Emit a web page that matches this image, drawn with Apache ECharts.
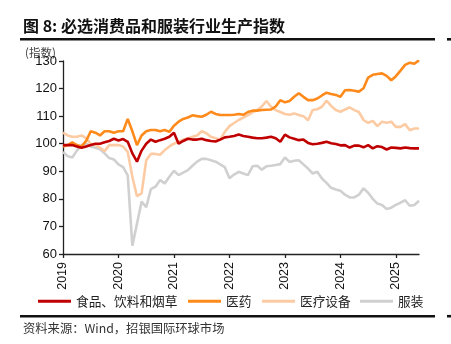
<!DOCTYPE html>
<html><head><meta charset="utf-8">
<script src="https://cdn.jsdelivr.net/npm/echarts@6/dist/echarts.min.js"></script>
<style>html,body{margin:0;padding:0;background:#fff}#c{width:451px;height:344px}</style>
</head><body><div id="c"></div>
<script>
// Monthly categories Jan 2019 .. Jun 2025
const categories = [];
for (let y = 2019; y <= 2025; y++) {
  for (let m = 1; m <= 12; m++) {
    if (y === 2025 && m > 6) break;
    categories.push(y + '-' + String(m).padStart(2, '0'));
  }
}
const yTicks = [60, 70, 80, 90, 100, 110, 120, 130];
const seriesNames = ['食品、饮料和烟草', '医药', '医疗设备', '服装'];

const food = [99.5,99.5,99.5,99,98.5,99,99.5,100,100,100.5,
  101,101.8,101.2,101.7,100.7,96.5,93.5,97.5,100,101.5,
  100.7,101.3,101.8,102.5,104,100,101,101.8,101.5,101.5,
  101.8,101.3,101,100.8,101.5,102.3,102.5,102.8,103.3,102.8,
  102.5,102.2,102,102,102.2,102.5,102,100.7,103.3,102.3,
  101.8,101.3,101.5,100.3,99.8,100,100.3,100.7,100.2,99.9,
  99.4,99.5,98.6,99.3,99.3,98.7,99.5,98.3,99.1,98.8,
  97.9,98.6,98.5,98.3,98.6,98.4,98.3,98.3];
const pharma = [99,99.5,100.5,99.5,99,101,104.5,104,103,104.5,
  104.5,104,104.5,104.5,109,104.5,99.5,103,104.5,105,
  105,104.5,105,104.3,106.5,108,109,109.5,110.3,110,
  109.8,110.5,111.6,110.8,110.4,110.4,110.4,110.5,110.8,110.5,
  111.5,112,112,112.2,112.3,112.4,113.5,115.8,115,115.5,
  117,118.3,117,115.8,115.8,116.4,117.5,118.5,118,117.7,
  117,119.4,119.5,119.2,118.9,120.1,124,125,125.3,125.5,
  124.6,123,124.5,126.5,128.6,129.4,129,130.3];
const equipment = [104,103,102.5,102.5,103,102,100,99.5,98.6,97.3,
  99.5,99.5,99.5,99,97,88,81,82,94,96.3,
  96.3,96,97.7,99,100,100.7,101.5,101.9,102.5,103,
  104.5,103.8,102.5,102,101.5,104.3,106.4,107.5,108.6,109.5,
  110.4,111.4,112.2,113.5,115.5,113.4,112.2,111.5,110.8,110.5,
  111,110.4,110,108.5,112.2,112.5,113.4,115.6,113.7,112.2,
  111.6,112.4,113.2,112.2,111.5,108.6,107.6,108.3,106.4,108,
  107.6,108,106.1,106.1,107.1,104.9,105.5,105.5];
const apparel = [97,95.5,95,97.5,99.5,100,99,98.5,98,96.5,
  94.8,94.3,92.5,91.5,88.5,63,71,79,77,83.5,
  84.4,86.8,85.6,88,90.2,88.6,89.5,90.4,92,93.5,
  94.5,94.5,94,93.5,92.5,91.5,87.5,88.8,89.8,89.2,
  88.6,91.8,92,90.6,91.8,92,92.3,92.6,95,93.4,
  93.8,94,92.5,91,89.2,89.8,87.4,85.8,84,83.4,
  82.9,81.5,80.5,80.5,81.5,83.8,82.2,80,78.3,77.8,
  76.3,76.8,77.8,78.6,79.5,77.5,77.8,79.3];

const colors = ['#C00000', '#FF8A1C', '#FCCBA3', '#D0D0D0'];
const seriesData = [food, pharma, equipment, apparel];
const zOrder = [6, 5, 4, 3];

const latin = "'Liberation Sans', Arial, 'Noto Sans CJK SC', sans-serif";
const cjk = "'Noto Sans CJK SC', 'Liberation Sans', sans-serif";

const chart = echarts.init(document.getElementById('c'), null, {renderer: 'canvas'});
const legendLeft = [38, 188, 262, 360];

const option = {
  animation: false,
  backgroundColor: '#fff',
  grid: {left: 63, top: 61, width: 356, height: 193, containLabel: false},
  xAxis: {
    type: 'category',
    data: categories,
    boundaryGap: false,
    axisLine: {lineStyle: {color: '#222', width: 1.3}},
    axisTick: {length: 4, lineStyle: {color: '#222', width: 1.3},
      interval: function (i) { return i % 12 === 0; }},
    axisLabel: {
      interval: function (i) { return i % 12 === 0; },
      rotate: 90, margin: 8, color: '#111', fontSize: 12.5, fontFamily: latin,
      formatter: function (v) { return v.slice(0, 4); }
    },
    splitLine: {show: false}
  },
  yAxis: {
    type: 'value', min: yTicks[0], max: yTicks[yTicks.length - 1], interval: 10,
    axisLine: {show: true, lineStyle: {color: '#222', width: 1.3}},
    axisTick: {show: true, length: 4, lineStyle: {color: '#222', width: 1.3}},
    axisLabel: {color: '#111', fontSize: 13, fontFamily: latin, margin: 6},
    splitLine: {show: false}
  },
  legend: seriesNames.map(function (n, k) {
    return {
      data: [n], left: legendLeft[k], top: 295, padding: 0,
      icon: 'rect', itemWidth: 33, itemHeight: 3,
      textStyle: {fontSize: 12.7, fontFamily: cjk, color: '#222'}
    };
  }),
  series: seriesNames.map(function (n, k) {
    return {
      name: n, type: 'line', data: seriesData[k], symbol: 'none', z: zOrder[k],
      lineStyle: {color: colors[k], width: 2.6}, itemStyle: {color: colors[k]}
    };
  }),
  graphic: [
    {type: 'text', x: 23, y: 26, style: {text: '图 8: 必选消费品和服装行业生产指数',
      font: "bold 16px 'Noto Sans CJK SC', 'Liberation Sans', sans-serif", fill: '#111', verticalAlign: 'middle'}},
    {type: 'line', shape: {x1: 20, y1: 39.3, x2: 435, y2: 39.3}, style: {stroke: '#111', lineWidth: 2.6}},
    {type: 'line', shape: {x1: 447, y1: 39.3, x2: 451, y2: 39.3}, style: {stroke: '#111', lineWidth: 2.6}},
    {type: 'text', x: 25, y: 53, style: {text: '(指数)', font: "11.5px 'Noto Sans CJK SC', sans-serif", fill: '#444', verticalAlign: 'middle'}},
    {type: 'line', shape: {x1: 20, y1: 316.2, x2: 435, y2: 316.2}, style: {stroke: '#111', lineWidth: 2.6}},
    {type: 'line', shape: {x1: 447, y1: 316.2, x2: 451, y2: 316.2}, style: {stroke: '#111', lineWidth: 2.6}},
    {type: 'text', x: 23, y: 328.5, style: {text: '资料来源：Wind，招银国际环球市场', font: "12.3px 'Noto Sans CJK SC', sans-serif", fill: '#333', verticalAlign: 'middle'}}
  ]
};
chart.setOption(option);
</script>
</body></html>
